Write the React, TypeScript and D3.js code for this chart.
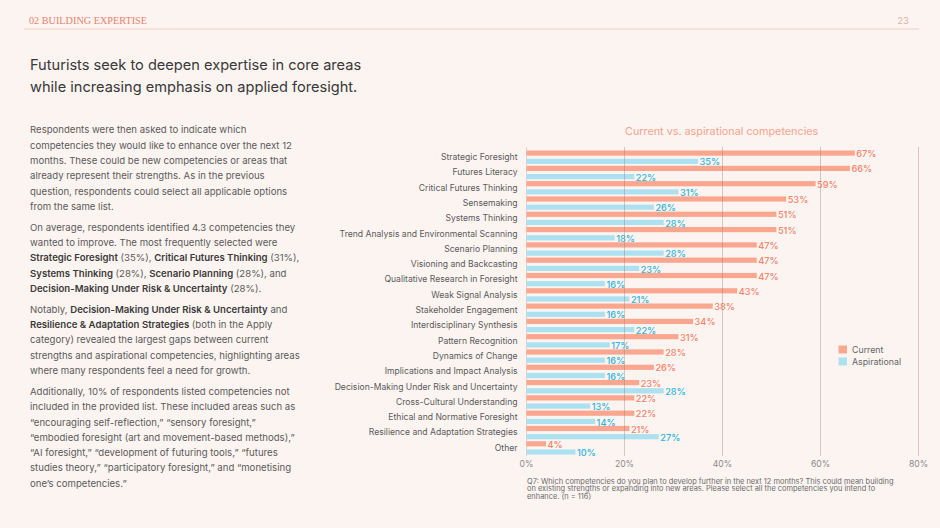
import React, { useEffect, useRef } from 'react';
import * as d3 from 'd3';

const categories = [
  'Strategic Foresight',
  'Futures Literacy',
  'Critical Futures Thinking',
  'Sensemaking',
  'Systems Thinking',
  'Trend Analysis and Environmental Scanning',
  'Scenario Planning',
  'Visioning and Backcasting',
  'Qualitative Research in Foresight',
  'Weak Signal Analysis',
  'Stakeholder Engagement',
  'Interdisciplinary Synthesis',
  'Pattern Recognition',
  'Dynamics of Change',
  'Implications and Impact Analysis',
  'Decision-Making Under Risk and Uncertainty',
  'Cross-Cultural Understanding',
  'Ethical and Normative Foresight',
  'Resilience and Adaptation Strategies',
  'Other',
];
const currentValues = [67, 66, 59, 53, 51, 51, 47, 47, 47, 43, 38, 34, 31, 28, 26, 23, 22, 22, 21, 4];
const aspirationalValues = [35, 22, 31, 26, 28, 18, 28, 23, 16, 21, 16, 22, 17, 16, 16, 28, 13, 14, 27, 10];
const seriesNames = ['Current', 'Aspirational'];
const xTicks = [0, 20, 40, 60, 80];

const headerText = '02 BUILDING EXPERTISE';
const pageNumber = '23';
const titleLines = [
  'Futurists seek to deepen expertise in core areas',
  'while increasing emphasis on applied foresight.',
];
const chartTitle = 'Current vs. aspirational competencies';
const paragraphs = [
  [
    'Respondents were then asked to indicate which',
    'competencies they would like to enhance over the next 12',
    'months. These could be new competencies or areas that',
    'already represent their strengths. As in the previous',
    'question, respondents could select all applicable options',
    'from the same list.',
  ],
  [
    'On average, respondents identified 4.3 competencies they',
    'wanted to improve. The most frequently selected were',
    '**Strategic Foresight** (35%), **Critical Futures Thinking** (31%),',
    '**Systems Thinking** (28%), **Scenario Planning** (28%), and',
    '**Decision-Making Under Risk & Uncertainty** (28%).',
  ],
  [
    'Notably, **Decision-Making Under Risk & Uncertainty** and',
    '**Resilience & Adaptation Strategies** (both in the Apply',
    'category) revealed the largest gaps between current',
    'strengths and aspirational competencies, highlighting areas',
    'where many respondents feel a need for growth.',
  ],
  [
    'Additionally, 10% of respondents listed competencies not',
    'included in the provided list. These included areas such as',
    '\u201Cencouraging self-reflection,\u201D \u201Csensory foresight,\u201D',
    '\u201Cembodied foresight (art and movement-based methods),\u201D',
    '\u201CAI foresight,\u201D \u201Cdevelopment of futuring tools,\u201D \u201Cfutures',
    'studies theory,\u201D \u201Cparticipatory foresight,\u201D and \u201Cmonetising',
    'one\u2019s competencies.\u201D',
  ],
];
const footnoteLines = [
  'Q7: Which competencies do you plan to develop further in the next 12 months? This could mean building',
  'on existing strengths or expanding into new areas. Please select all the competencies you intend to',
  'enhance. (n = 116)',
];

const SANS = 'Inter, "DejaVu Sans", sans-serif';

export default function App() {
  const ref = useRef<SVGSVGElement>(null);

  useEffect(() => {
    document.body.style.margin = '0';
    document.body.style.background = '#fcf4f1';
    const svg = d3.select(ref.current);
    svg.selectAll('*').remove();

    svg.append('rect').attr('width', 940).attr('height', 528).attr('fill', '#fcf4f1');

    // Header
    svg.append('text')
      .attr('x', 29).attr('y', 23.5)
      .attr('font-family', '"Liberation Serif", serif')
      .attr('font-size', 11)
      .attr('fill', '#e9826c')
      .attr('textLength', 118)
      .attr('lengthAdjust', 'spacingAndGlyphs')
      .text(headerText);
    svg.append('text')
      .attr('x', 909).attr('y', 23.5)
      .attr('text-anchor', 'end')
      .attr('font-family', SANS)
      .attr('font-size', 9.5)
      .attr('fill', '#ddb5aa')
      .text(pageNumber);
    svg.append('line')
      .attr('x1', 24).attr('x2', 919).attr('y1', 29).attr('y2', 29)
      .attr('stroke', '#f4dcd3').attr('stroke-width', 1.5);

    // Title
    titleLines.forEach((t, i) => {
      svg.append('text')
        .attr('x', 30).attr('y', 65 + i * 21.5)
        .attr('dominant-baseline', 'central')
        .attr('font-family', SANS)
        .attr('font-size', 14.6)
        .attr('fill', '#383838')
        .text(t);
    });

    // Body paragraphs
    let y = 129.3;
    const lh = 15.3;
    paragraphs.forEach((p) => {
      p.forEach((line) => {
        const txt = svg.append('text')
          .attr('x', 30).attr('y', y)
          .attr('dominant-baseline', 'central')
          .attr('font-family', SANS)
          .attr('font-size', 9.6)
          .attr('fill', '#5a5a5a');
        line.split('**').forEach((seg, k) => {
          if (!seg) return;
          txt.append('tspan')
            .attr('font-weight', k % 2 === 1 ? 600 : 400)
            .attr('fill', k % 2 === 1 ? '#3a3a3a' : '#5a5a5a')
            .text(seg);
        });
        y += lh;
      });
      y += 5.6;
    });

    // Chart
    const x = d3.scaleLinear().domain([0, 80]).range([526.5, 918.5]);
    const y0 = d3.scaleBand<string>().domain(categories).range([150.5, 150.5 + 15.3 * categories.length]);
    const y1 = d3.scaleBand<string>().domain(seriesNames).range([0, 13.4]).paddingInner(0.37);
    const barColors = d3.scaleOrdinal<string, string>().domain(seriesNames).range(['#fba68f', '#abe1f0']);
    const textColors = d3.scaleOrdinal<string, string>().domain(seriesNames).range(['#f3846a', '#2fb5de']);

    svg.append('text')
      .attr('x', 625).attr('y', 131)
      .attr('dominant-baseline', 'central')
      .attr('font-family', SANS)
      .attr('font-size', 10.8)
      .attr('fill', '#f2a48f')
      .text(chartTitle);

    const rows = categories.map((c, i) => ({ c, vals: [currentValues[i], aspirationalValues[i]] }));

    // zero axis
    svg.append('line')
      .attr('x1', x(0)).attr('x2', x(0)).attr('y1', 147).attr('y2', 456)
      .attr('stroke', '#e3d0c9').attr('stroke-width', 1);

    const g = svg.append('g');
    rows.forEach((r) => {
      seriesNames.forEach((s, k) => {
        g.append('rect')
          .attr('x', x(0))
          .attr('y', (y0(r.c) as number) + (y1(s) as number))
          .attr('width', x(r.vals[k]) - x(0))
          .attr('height', y1.bandwidth())
          .attr('fill', barColors(s));
        g.append('text')
          .attr('x', x(r.vals[k]) + 1.5)
          .attr('y', (y0(r.c) as number) + (y1(s) as number) + y1.bandwidth() / 2 + 0.6)
          .attr('dominant-baseline', 'central')
          .attr('font-family', SANS)
          .attr('font-size', 9.2)
          .attr('font-weight', 500)
          .attr('fill', textColors(s))
          .text(`${r.vals[k]}%`);
      });
      g.append('text')
        .attr('x', 517.5)
        .attr('y', (y0(r.c) as number) + 6.5)
        .attr('text-anchor', 'end')
        .attr('dominant-baseline', 'central')
        .attr('font-family', SANS)
        .attr('font-size', 8.6)
        .attr('fill', '#5a5a5a')
        .text(r.c);
    });

    // gridlines on top
    xTicks.filter((t) => t > 0).forEach((t) => {
      svg.append('line')
        .attr('x1', x(t)).attr('x2', x(t)).attr('y1', 147).attr('y2', 456)
        .attr('stroke', '#9c7a6e').attr('stroke-opacity', 0.38).attr('stroke-width', 1);
    });

    // x tick labels
    xTicks.forEach((t) => {
      svg.append('text')
        .attr('x', x(t)).attr('y', 463.5)
        .attr('text-anchor', 'middle')
        .attr('dominant-baseline', 'central')
        .attr('font-family', SANS)
        .attr('font-size', 8.6)
        .attr('fill', '#8a8a8a')
        .text(`${t}%`);
    });

    // legend
    seriesNames.forEach((s, k) => {
      svg.append('rect')
        .attr('x', 838.5).attr('y', 345.5 + k * 12)
        .attr('width', 8.5).attr('height', 8)
        .attr('fill', barColors(s));
      svg.append('text')
        .attr('x', 852).attr('y', 349.7 + k * 12)
        .attr('dominant-baseline', 'central')
        .attr('font-family', SANS)
        .attr('font-size', 8.8)
        .attr('fill', '#666')
        .text(s);
    });

    // footnote
    footnoteLines.forEach((t, i) => {
      svg.append('text')
        .attr('x', 527).attr('y', 481 + i * 7.9)
        .attr('dominant-baseline', 'central')
        .attr('font-family', SANS)
        .attr('font-size', 7.45)
        .attr('fill', '#6b6b6b')
        .text(t);
    });
  }, []);

  return <svg ref={ref} width={940} height={528} style={{ display: 'block' }} />;
}
